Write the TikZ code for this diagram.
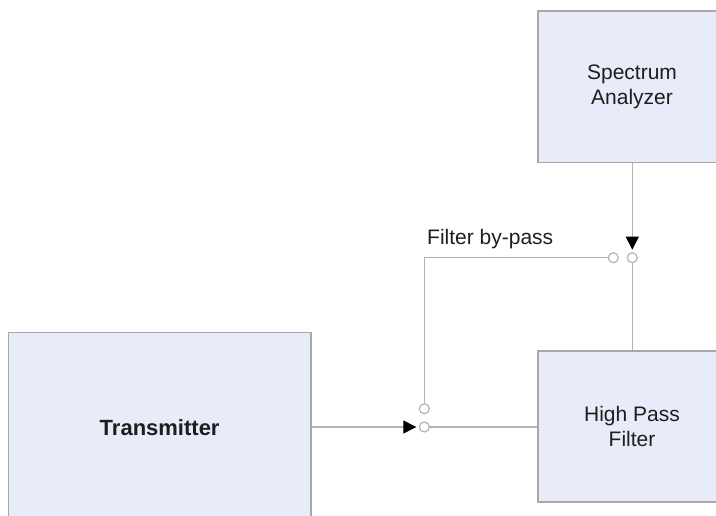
\documentclass[tikz,border=0pt]{standalone}
\usepackage{fontspec}
\setmainfont{Liberation Sans}
\usetikzlibrary{arrows.meta,positioning}
\definecolor{boxfill}{HTML}{E8ECF8}
\definecolor{boxline}{HTML}{A8A8AC}
\definecolor{wire}{HTML}{B4B4B4}
\definecolor{ink}{HTML}{1E1E1E}
\tikzset{
  blockbox/.style={draw=boxline, fill=boxfill, line width=1.3pt, rectangle, inner sep=0pt,
    align=center, text=ink, font=\fontsize{21}{24.5}\selectfont},
  sw/.style={circle, draw=wire, fill=white, line width=1.2pt, minimum size=10pt, inner sep=0pt, outer sep=0pt},
  wireline/.style={draw=wire, line width=1.3pt},
  arrowline/.style={wireline, -{Triangle[length=13pt,width=13pt,color=black,fill=black]}, shorten >=3pt},
  lbl/.style={text=ink, font=\fontsize{21}{24.5}\selectfont, inner sep=0pt}
}
\begin{document}
\begin{tikzpicture}[x=1pt,y=-1pt]
\useasboundingbox (0,0) rectangle (716,516);
\clip (0,0) rectangle (716,516);
\fill[white] (0,0) rectangle (716,516);
% blocks
\node[blockbox, minimum width=302.7pt, minimum height=189.7pt, font=\fontsize{22}{26}\selectfont\bfseries] (tx) at (159.65,427.15) {Transmitter};
\node[blockbox, minimum width=188pt, minimum height=151.7pt] (sa) at (632,86.85) {Spectrum\\Analyzer};
\node[blockbox, minimum width=188pt, minimum height=151pt] (hpf) at (632,426.5) {High Pass\\Filter};
% switch contacts
\node[sw] (c1) at (424.3,427) {};
\node[sw] (c2) at (424.3,408.7) {};
\node[sw] (c3) at (613.3,257.7) {};
\node[sw] (c4) at (632.3,257.7) {};
\coordinate (corner) at (424.3,257.7);
% connectors
\draw[arrowline] (tx.east |- c1) -- (c1);
\draw[wireline] (c1) -- (hpf.west |- c1);
\draw[wireline] (c2) -- (corner) -- (c3);
\draw[arrowline] (sa.south -| c4) -- (c4);
\draw[wireline] (c4) -- (hpf.north -| c4);
% label
\node[lbl, anchor=base west] (bp) at (427,245) {Filter by-pass};
\end{tikzpicture}
\end{document}
